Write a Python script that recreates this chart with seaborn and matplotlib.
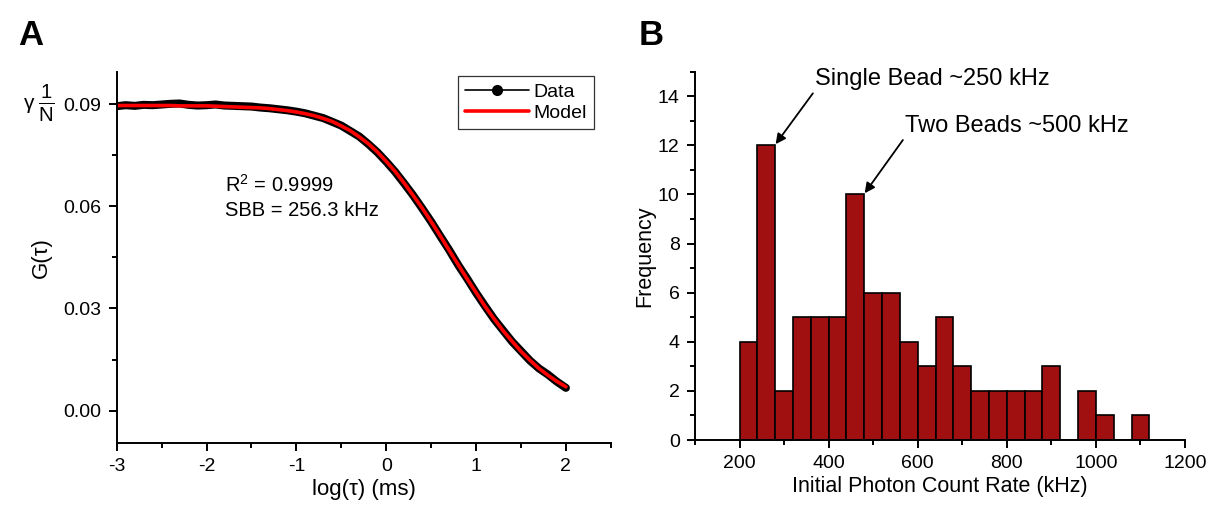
import matplotlib
matplotlib.use("Agg")
import matplotlib.pyplot as plt
import seaborn as sns
from matplotlib.lines import Line2D
from matplotlib.ticker import MultipleLocator, FormatStrFormatter

# Panel A: autocorrelation curve
log_tau = [-3.0, -2.9, -2.8, -2.7, -2.6, -2.5, -2.4, -2.3, -2.2, -2.1,
           -2.0, -1.9, -1.8, -1.7, -1.6, -1.5, -1.4, -1.3, -1.2, -1.1,
           -1.0, -0.9, -0.8, -0.7, -0.6, -0.5, -0.4, -0.3, -0.2, -0.1,
           0.0, 0.1, 0.2, 0.3, 0.4, 0.5, 0.6, 0.7, 0.8, 0.9,
           1.0, 1.1, 1.2, 1.3, 1.4, 1.5, 1.6, 1.7, 1.8, 1.9, 2.0]
g_data = [0.0894, 0.0897, 0.0895, 0.0898, 0.0897, 0.0899, 0.0901, 0.0902, 0.0898, 0.0896,
          0.0897, 0.0899, 0.0896, 0.0895, 0.0894, 0.0893, 0.0890, 0.0888, 0.0885, 0.0882,
          0.0878, 0.0873, 0.0866, 0.0859, 0.0848, 0.0837, 0.0821, 0.0805, 0.0783, 0.0759,
          0.0731, 0.0701, 0.0667, 0.0632, 0.0594, 0.0555, 0.0513, 0.0472, 0.0428, 0.0388,
          0.0346, 0.0307, 0.0269, 0.0236, 0.0203, 0.0175, 0.0147, 0.0124, 0.0106, 0.0085, 0.0067]
g_model = [0.0896, 0.0896, 0.0896, 0.0896, 0.0896, 0.0896, 0.0896, 0.0895, 0.0895, 0.0895,
           0.0895, 0.0894, 0.0893, 0.0892, 0.0891, 0.0890, 0.0889, 0.0887, 0.0884, 0.0881,
           0.0877, 0.0872, 0.0866, 0.0858, 0.0849, 0.0836, 0.0822, 0.0804, 0.0784, 0.0760,
           0.0732, 0.0702, 0.0668, 0.0632, 0.0595, 0.0555, 0.0514, 0.0471, 0.0429, 0.0387,
           0.0347, 0.0306, 0.0270, 0.0235, 0.0204, 0.0174, 0.0148, 0.0124, 0.0104, 0.0086, 0.0070]

# Panel B: histogram of initial photon count rate (bins of 40 kHz)
bin_edges = [200, 240, 280, 320, 360, 400, 440, 480, 520, 560, 600, 640,
             680, 720, 760, 800, 840, 880, 920, 960, 1000, 1040, 1080, 1120]
counts = [4, 12, 2, 5, 5, 5, 10, 6, 6, 4, 3, 5, 3, 2, 2, 2, 2, 3, 0, 2, 1, 0, 1]

sns.set_style("ticks")
plt.rcParams["font.family"] = ["Liberation Sans", "DejaVu Sans"]
plt.rcParams["mathtext.fontset"] = "custom"
plt.rcParams["mathtext.rm"] = "Liberation Sans"
plt.rcParams["mathtext.it"] = "Liberation Sans:italic"
plt.rcParams["axes.unicode_minus"] = False
for key in ("text.color", "axes.labelcolor", "xtick.color", "ytick.color"):
    plt.rcParams[key] = "black"


def style_axes(ax):
    sns.despine(ax=ax)
    for s in ("left", "bottom"):
        ax.spines[s].set_linewidth(1.4)
        ax.spines[s].set_color("black")
    ax.tick_params(which="major", direction="out", length=6, width=1.4,
                   labelsize=14, colors="black", pad=5)
    ax.tick_params(which="minor", direction="out", length=3.5, width=1.4)


fig = plt.figure(figsize=(12.11, 5.17), dpi=100)
ax1 = fig.add_axes([0.0964, 0.1431, 0.408, 0.718])
ax2 = fig.add_axes([0.5739, 0.1489, 0.4046, 0.7124])

# ---- panel A
sns.lineplot(x=log_tau, y=g_data, ax=ax1, color="black", linewidth=5.8,
             solid_capstyle="round")
sns.lineplot(x=log_tau, y=g_model, ax=ax1, color="#ff0000", linewidth=2.6)
ax1.set_xlim(-3, 2.5)
ax1.set_ylim(-0.0095, 0.0995)
ax1.xaxis.set_major_locator(MultipleLocator(1))
ax1.xaxis.set_minor_locator(MultipleLocator(0.5))
ax1.yaxis.set_major_locator(MultipleLocator(0.03))
ax1.yaxis.set_minor_locator(MultipleLocator(0.015))
ax1.yaxis.set_major_formatter(FormatStrFormatter("%.2f"))
style_axes(ax1)
ax1.set_xlabel("log(τ) (ms)", fontsize=16, labelpad=3)
ax1.set_ylabel("G(τ)", fontsize=16, labelpad=8)

handles = [Line2D([], [], color="black", linewidth=1.2, marker="o", markersize=7),
           Line2D([], [], color="#ff0000", linewidth=2.6)]
leg = ax1.legend(handles, ["Data", "Model"], loc="upper right",
                 bbox_to_anchor=(0.966, 0.988), borderaxespad=0, fontsize=14,
                 fancybox=False, framealpha=1, edgecolor="#333333",
                 handlelength=3.3, handletextpad=0.25, borderpad=0.35,
                 labelspacing=0.2)
leg.get_frame().set_linewidth(0.9)

ax1.text(-1.79, 0.0663, "R$^2$ = 0.9999", fontsize=14.5, va="center")
ax1.text(-1.79, 0.0589, "SBB = 256.3 kHz", fontsize=14.5, va="center")
fig.text(0.020, 0.80, "γ", fontsize=15, va="center")
fig.text(0.031, 0.80, r"$\frac{1}{\mathrm{N}}$", fontsize=21, va="center")

# ---- panel B
centers = [(a + b) / 2 for a, b in zip(bin_edges[:-1], bin_edges[1:])]
sns.histplot(x=centers, weights=counts, bins=bin_edges, ax=ax2,
             color="#a01010", edgecolor="black", linewidth=1.2, alpha=1)
ax2.set_xlim(100, 1200)
ax2.set_ylim(0, 15)
ax2.xaxis.set_major_locator(MultipleLocator(200))
ax2.xaxis.set_minor_locator(MultipleLocator(100))
ax2.yaxis.set_major_locator(MultipleLocator(2))
ax2.yaxis.set_minor_locator(MultipleLocator(1))
style_axes(ax2)
ax2.set_xlabel("Initial Photon Count Rate (kHz)", fontsize=15.5, labelpad=3)
ax2.set_ylabel("Frequency", fontsize=15.5, labelpad=2)

arrow = dict(arrowstyle="-|>", color="black", lw=1.3, shrinkA=0, shrinkB=0,
             relpos=(0.0, 0.0), mutation_scale=15)
ax2.annotate("Single Bead ~250 kHz", xy=(281, 12.05), xytext=(370, 14.7),
             fontsize=17, va="center", ha="left", arrowprops=arrow)
ax2.annotate("Two Beads ~500 kHz", xy=(481, 10.05), xytext=(572, 12.8),
             fontsize=17, va="center", ha="left", arrowprops=arrow)

fig.text(0.015, 0.932, "A", fontsize=25, fontweight="bold", va="center")
fig.text(0.527, 0.932, "B", fontsize=25, fontweight="bold", va="center")

fig.savefig("out.png", dpi=100, facecolor="white")
